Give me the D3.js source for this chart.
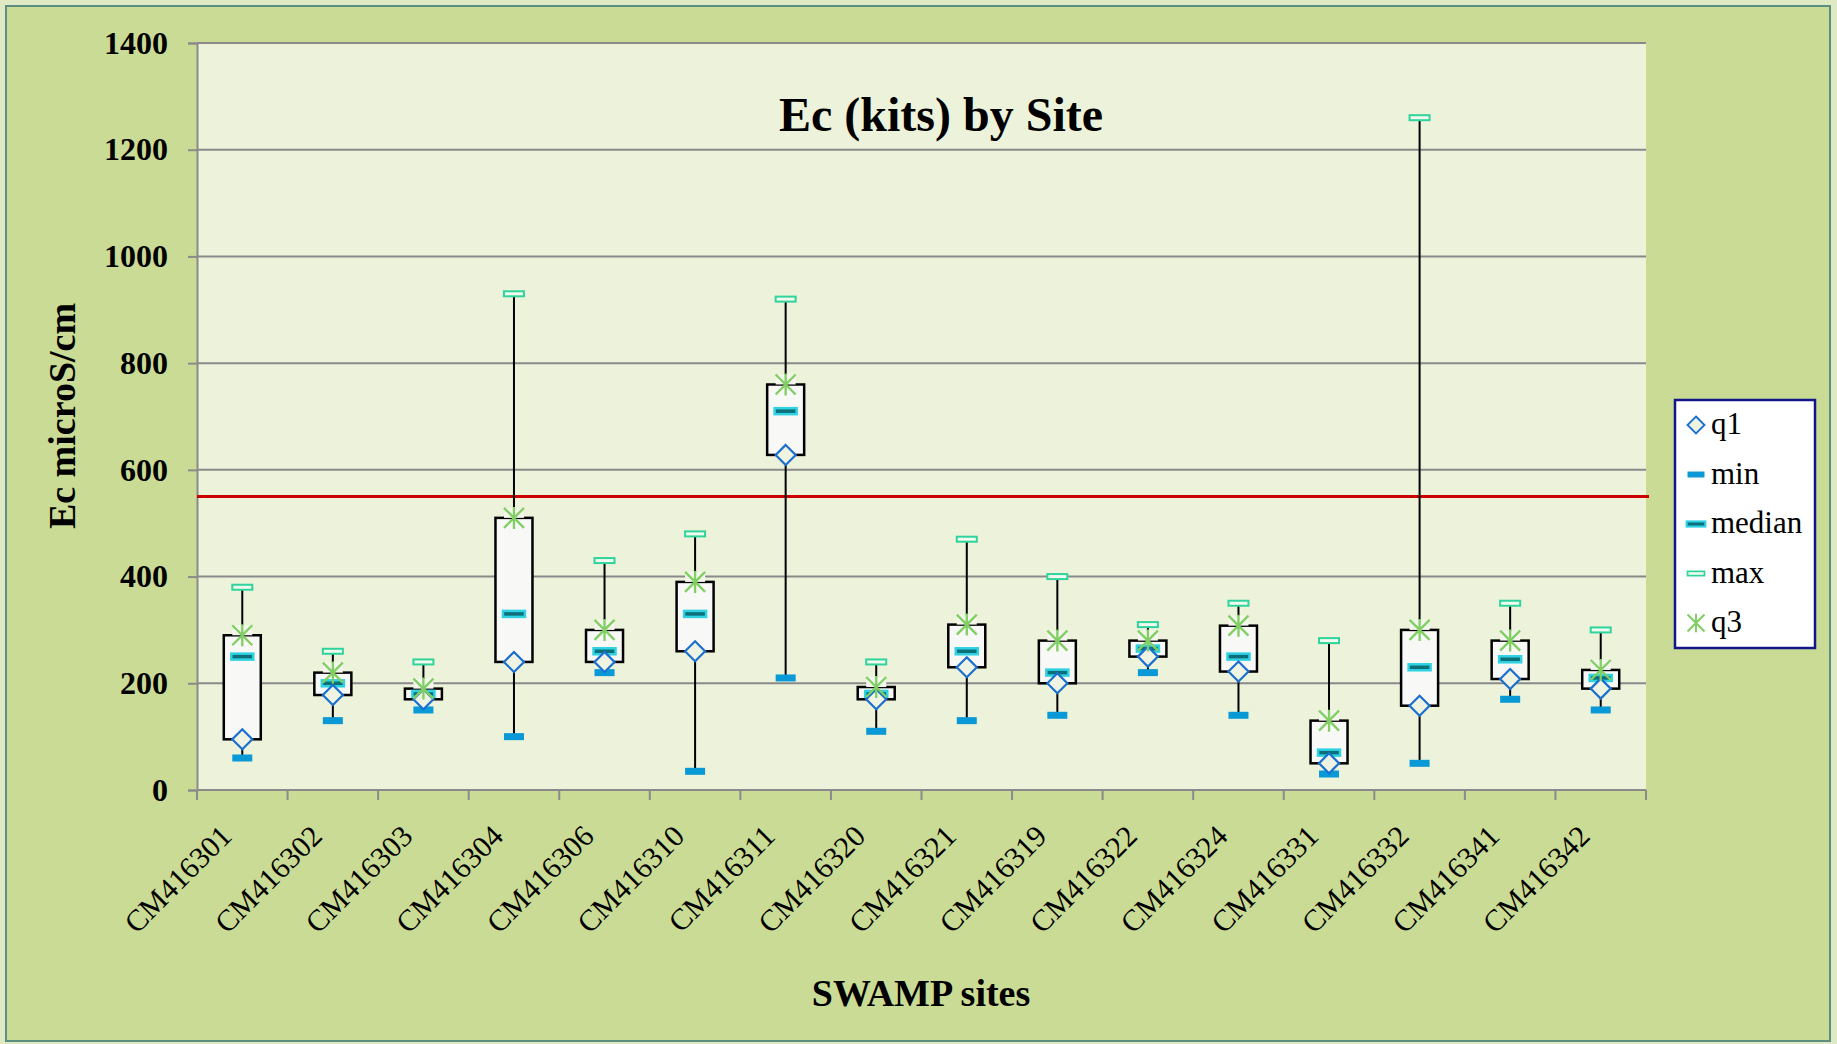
<!DOCTYPE html>
<html>
<head>
<meta charset="utf-8">
<script src="https://cdn.jsdelivr.net/npm/d3@7"></script>
<style>
  body { margin: 0; background: #dfe9c4; }
  svg { display: block; }
  text { font-family: "Liberation Serif", "Times New Roman", serif; fill: #000; }
</style>
</head>
<body>
<svg id="chart" width="1837" height="1044"></svg>
<script>
// data
var sites = ["CM416301", "CM416302", "CM416303", "CM416304", "CM416306", "CM416310", "CM416311", "CM416320",
             "CM416321", "CM416319", "CM416322", "CM416324", "CM416331", "CM416332", "CM416341", "CM416342"];
var minVals    = [60, 130, 150, 100, 220, 35, 210, 110, 130, 140, 220, 140, 30, 50, 170, 150];
var q1Vals     = [95, 178, 170, 240, 240, 260, 628, 170, 230, 200, 250, 222, 50, 158, 208, 190];
var medianVals = [250, 200, 180, 330, 260, 330, 710, 180, 260, 220, 265, 250, 70, 230, 245, 210];
var q3Vals     = [290, 220, 190, 510, 300, 390, 760, 193, 310, 280, 280, 308, 130, 300, 280, 225];
var maxVals    = [380, 260, 240, 930, 430, 480, 920, 240, 470, 400, 310, 350, 280, 1260, 350, 300];
var yTicks = [0, 200, 400, 600, 800, 1000, 1200, 1400];
var limitValue = 550;
var legendKeys = ["q1", "min", "median", "max", "q3"];

var svg = d3.select("#chart");

// outer frame
svg.append("rect")
  .attr("x", 6).attr("y", 6).attr("width", 1824).attr("height", 1035)
  .attr("fill", "#cadb95").attr("stroke", "#5d8f80").attr("stroke-width", 2);

var plotL = 197, plotR = 1646, plotT = 43, plotB = 790;

var x = d3.scaleBand().domain(sites).range([plotL, plotR]);
var y = d3.scaleLinear().domain([0, 1400]).range([plotB, plotT]);

// plot area
svg.append("rect")
  .attr("x", plotL).attr("y", plotT).attr("width", plotR - plotL).attr("height", plotB - plotT)
  .attr("fill", "#edf2da");

// gridlines
svg.append("g").selectAll("line").data(yTicks.slice(1)).enter().append("line")
  .attr("x1", plotL).attr("x2", plotR)
  .attr("y1", function(d) { return y(d); }).attr("y2", function(d) { return y(d); })
  .attr("stroke", "#8a8a8a").attr("stroke-width", 2);

// y axis
var yAxis = svg.append("g")
  .attr("transform", "translate(" + plotL + ",0)")
  .call(d3.axisLeft(y).tickValues(yTicks).tickFormat(d3.format("d")).tickSize(9).tickPadding(20));
yAxis.select(".domain").attr("stroke", "#8a8a8a").attr("stroke-width", 2);
yAxis.selectAll(".tick line").attr("stroke", "#8a8a8a").attr("stroke-width", 2);
yAxis.selectAll(".tick text")
  .style("font-family", "Liberation Serif").style("font-weight", "bold").style("font-size", "32px")
  .attr("fill", "#000");

// x axis (ticks between categories)
var xAxis = svg.append("g").attr("transform", "translate(0," + plotB + ")");
xAxis.append("line").attr("x1", plotL).attr("x2", plotR).attr("stroke", "#8a8a8a").attr("stroke-width", 2);
var bounds = sites.map(function(s) { return x(s); }).concat([plotR]);
xAxis.selectAll("line.tk").data(bounds).enter().append("line")
  .attr("class", "tk")
  .attr("x1", function(d) { return d; }).attr("x2", function(d) { return d; })
  .attr("y1", 0).attr("y2", 10)
  .attr("stroke", "#8a8a8a").attr("stroke-width", 2);
xAxis.selectAll("text").data(sites).enter().append("text")
  .attr("transform", function(d) { return "translate(" + (x(d) + x.bandwidth() / 2 - 9) + ",48) rotate(-45)"; })
  .attr("text-anchor", "end")
  .style("font-size", "30px")
  .text(function(d) { return d; });

// limit line
svg.append("line")
  .attr("x1", plotL).attr("x2", plotR + 3)
  .attr("y1", y(limitValue)).attr("y2", y(limitValue))
  .attr("stroke", "#cc0000").attr("stroke-width", 3);

// boxes
var rows = sites.map(function(s, i) {
  return { site: s, min: minVals[i], q1: q1Vals[i], median: medianVals[i], q3: q3Vals[i], max: maxVals[i] };
});
var boxW = 37;
var g = svg.append("g").selectAll("g").data(rows).enter().append("g")
  .attr("transform", function(d) { return "translate(" + (x(d.site) + x.bandwidth() / 2) + ",0)"; });

g.append("line")
  .attr("y1", function(d) { return y(d.min); }).attr("y2", function(d) { return y(d.max); })
  .attr("stroke", "#000").attr("stroke-width", 2);
g.append("rect")
  .attr("x", -boxW / 2).attr("width", boxW)
  .attr("y", function(d) { return y(d.q3); })
  .attr("height", function(d) { return y(d.q1) - y(d.q3); })
  .attr("fill", "#f8f8f7").attr("stroke", "#000").attr("stroke-width", 2.5);

function drawMin(sel) {
  sel.append("rect").attr("x", -10).attr("y", -3.5).attr("width", 20).attr("height", 7)
    .attr("fill", "#0899d6");
}
function drawMedian(sel) {
  sel.append("rect").attr("x", -11).attr("y", -3).attr("width", 22).attr("height", 6)
    .attr("fill", "#0c6f79").attr("stroke", "#2ed2e2").attr("stroke-width", 2.5);
}
function drawMax(sel) {
  sel.append("rect").attr("x", -10).attr("y", -2.5).attr("width", 20).attr("height", 5)
    .attr("fill", "#f2f9ef").attr("stroke", "#2fd49c").attr("stroke-width", 2);
}
function drawQ1(sel) {
  sel.append("path").attr("d", "M0,-10L10,0L0,10L-10,0Z")
    .attr("fill", "#eef3e2").attr("stroke", "#1b6fcf").attr("stroke-width", 2.2);
}
function drawQ3(sel, bg) {
  if (bg) sel.append("rect").attr("x", -10).attr("y", -10).attr("width", 20).attr("height", 10)
    .attr("fill", "#f4f6ee");
  sel.append("path").attr("d", "M-10,-10L10,10M-10,10L10,-10M0,-11L0,11")
    .attr("fill", "none").attr("stroke", "#80cf62").attr("stroke-width", 2.3);
}

g.append("g").attr("transform", function(d) { return "translate(0," + y(d.min) + ")"; }).call(drawMin);
g.append("g").attr("transform", function(d) { return "translate(0," + y(d.median) + ")"; }).call(drawMedian);
g.append("g").attr("transform", function(d) { return "translate(0," + y(d.max) + ")"; }).call(drawMax);
g.append("g").attr("transform", function(d) { return "translate(0," + y(d.q1) + ")"; }).call(drawQ1);
g.append("g").attr("transform", function(d) { return "translate(0," + y(d.q3) + ")"; }).call(drawQ3, true);

// titles
svg.append("text")
  .attr("x", 941).attr("y", 131).attr("text-anchor", "middle")
  .style("font-size", "48px").style("font-weight", "bold")
  .text("Ec (kits) by Site");
svg.append("text")
  .attr("x", 921).attr("y", 1006).attr("text-anchor", "middle")
  .style("font-size", "38px").style("font-weight", "bold")
  .text("SWAMP sites");
svg.append("text")
  .attr("transform", "translate(75,416) rotate(-90)")
  .attr("text-anchor", "middle")
  .style("font-size", "38px").style("font-weight", "bold")
  .text("Ec microS/cm");

// legend
var legend = svg.append("g");
legend.append("rect")
  .attr("x", 1675).attr("y", 400).attr("width", 140).attr("height", 248)
  .attr("fill", "#fff").attr("stroke", "#15158a").attr("stroke-width", 2.5);
var drawers = { q1: drawQ1, min: drawMin, median: drawMedian, max: drawMax, q3: drawQ3 };
var item = legend.selectAll("g.item").data(legendKeys).enter().append("g")
  .attr("class", "item")
  .attr("transform", function(d, i) { return "translate(1696," + (425 + i * 49.5) + ")"; });
item.each(function(d) {
  var m = d3.select(this).append("g").attr("transform", "scale(0.85)");
  drawers[d](m, false);
});
item.append("text")
  .attr("x", 15).attr("dy", "0.3em")
  .style("font-size", "31px")
  .text(function(d) { return d; });
</script>
</body>
</html>
